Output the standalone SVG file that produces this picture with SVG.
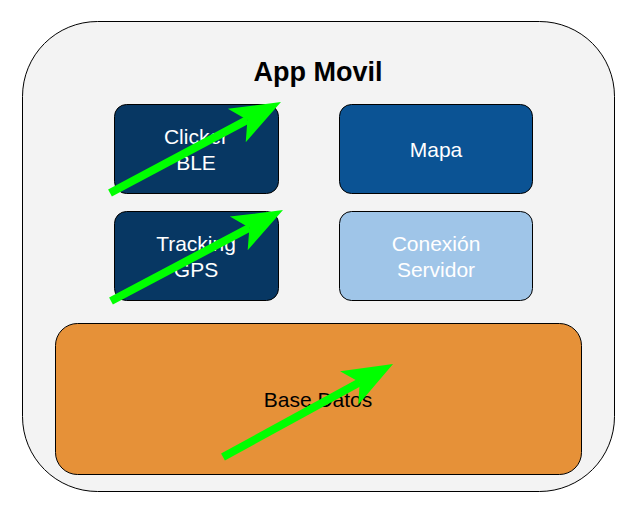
<svg xmlns="http://www.w3.org/2000/svg" width="636" height="514" viewBox="0 0 636 514">
<style>
.box{stroke:#000;stroke-width:1}
.lbl{font-family:"Liberation Sans",Arial,sans-serif;font-size:21px;text-anchor:middle}
.w{fill:#fff}
.arr{stroke:#00ff00;stroke-width:8;fill:none;marker-end:url(#head)}
</style>
<defs>
<marker id="head" markerUnits="userSpaceOnUse" viewBox="-12 -19 50 38" refX="0" refY="0" markerWidth="50" markerHeight="38" orient="auto" overflow="visible">
<path d="M38,0 L-12,-19 L0,0 L-12,19 Z" fill="#00ff00"/>
</marker>
</defs>
<rect width="636" height="514" fill="#fff"/>
<g id="app">
<rect class="box" x="22.5" y="21.5" width="592" height="470" rx="75" fill="#f3f3f3"/>
<text x="318" y="81" font-family="Liberation Sans,Arial,sans-serif" font-size="27" font-weight="bold" text-anchor="middle">App Movil</text>
</g>
<g id="clicker">
<rect class="box" x="114.5" y="104.5" width="164" height="89" rx="12" fill="#073763"/>
<text class="lbl w" x="196" y="144">Clicker</text>
<text class="lbl w" x="196" y="170">BLE</text>
</g>
<g id="mapa">
<rect class="box" x="339.5" y="104.5" width="193" height="89" rx="12" fill="#0b5394"/>
<text class="lbl w" x="436" y="157">Mapa</text>
</g>
<g id="tracking">
<rect class="box" x="114.5" y="211.5" width="164" height="89" rx="12" fill="#073763"/>
<text class="lbl w" x="196" y="251">Tracking</text>
<text class="lbl w" x="196" y="277">GPS</text>
</g>
<g id="conexion">
<rect class="box" x="339.5" y="211.5" width="193" height="89" rx="12" fill="#9fc5e8"/>
<text class="lbl w" x="436" y="251">Conexión</text>
<text class="lbl w" x="436" y="277">Servidor</text>
</g>
<g id="base">
<rect class="box" x="55.5" y="323.5" width="526" height="151" rx="22" fill="#e69138"/>
<text class="lbl" x="318" y="407" fill="#000">Base Datos</text>
</g>
<g id="connectors">
<path class="arr" d="M110,193 L247.4,119.9"/>
<path class="arr" d="M111,301 L249.4,227.8"/>
<path class="arr" d="M223,457 L359.7,382.2"/>
</g>
</svg>
